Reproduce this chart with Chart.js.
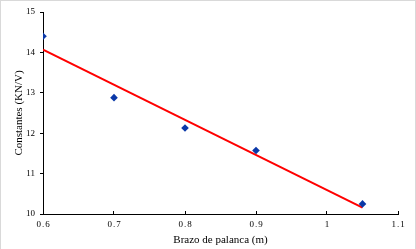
<!DOCTYPE html>
<html>
<head>
<meta charset="utf-8">
<script src="https://cdn.jsdelivr.net/npm/chart.js@4"></script>
<style>
    html, body { margin: 0; padding: 0; background: #ffffff; }
    #wrap { position: relative; width: 416px; height: 249px; }
    #frame {
        position: absolute; left: 0; top: 0; width: 416px; height: 250px;
        box-sizing: border-box; border: 1px solid #d9d9d9; pointer-events: none;
    }
</style>
</head>
<body>
<div id="wrap">
    <canvas id="chart" width="416" height="249"></canvas>
    <div id="frame"></div>
</div>
<script>
// measured points (lever arm vs constant)
const armLength = [0.6, 0.7, 0.8, 0.9, 1.05];
const constants = [14.4, 12.88, 12.13, 11.57, 10.25];

// linear trend line, read at its two ends
const trendX = [0.6, 1.05];
const trendY = [14.07, 10.16];

const xTicks = [0.6, 0.7, 0.8, 0.9, 1, 1.1];
const yTicks = [10, 11, 12, 13, 14, 15];

const SERIF = "'Liberation Serif', 'Times New Roman', serif";
const AXIS_COLOR = "#000000";

const points = armLength.map((x, i) => ({ x, y: constants[i] }));
const trend = trendX.map((x, i) => ({ x, y: trendY[i] }));

// x tick labels are drawn a little letter-spaced, like the original
function spaceOutLabels(scale) {
    if (scale._spaced) {
        return;
    }
    scale._spaced = true;
    const original = scale.drawLabels;
    scale.drawLabels = function (area) {
        const ctx = this.ctx;
        ctx.save();
        ctx.letterSpacing = "1px";
        ctx.translate(0.5, 0);
        original.call(this, area);
        ctx.restore();
    };
}

new Chart(document.getElementById("chart").getContext("2d"), {
    type: "scatter",
    data: {
        datasets: [
            {
                label: "Constantes",
                data: points,
                pointStyle: "rectRot",
                pointRadius: 3.8,
                pointHoverRadius: 3.8,
                backgroundColor: "#0a38a8",
                borderColor: "#0a38a8",
                borderWidth: 0,
                order: 0,
            },
            {
                type: "line",
                label: "Lineal",
                data: trend,
                borderColor: "#ff0000",
                borderWidth: 2,
                pointRadius: 0,
                fill: false,
                tension: 0,
                order: 1,
            },
        ],
    },
    options: {
        responsive: false,
        animation: false,
        layout: { padding: { left: 0, right: 18, top: 12, bottom: 0 } },
        plugins: {
            legend: { display: false },
            tooltip: { enabled: false },
        },
        scales: {
            x: {
                type: "linear",
                min: 0.6,
                max: 1.1,
                border: { display: true, color: AXIS_COLOR, width: 1 },
                grid: {
                    drawOnChartArea: false,
                    tickLength: -3,
                    tickColor: AXIS_COLOR,
                },
                afterBuildTicks: (scale) => {
                    scale.ticks = xTicks.map((value) => ({ value }));
                },
                afterFit: (scale) => {
                    scale.height = 35;
                    spaceOutLabels(scale);
                },
                ticks: {
                    color: AXIS_COLOR,
                    padding: 8,
                    maxRotation: 0,
                    autoSkip: false,
                    font: { family: SERIF, size: 9 },
                    callback: (value) => String(Number(value.toFixed(2))),
                },
                title: {
                    display: true,
                    text: "Brazo de palanca (m)",
                    color: AXIS_COLOR,
                    padding: { top: 0, bottom: 2 },
                    font: { family: SERIF, size: 11 },
                },
            },
            y: {
                type: "linear",
                min: 10,
                max: 15,
                border: { display: true, color: AXIS_COLOR, width: 1 },
                grid: {
                    drawOnChartArea: false,
                    tickLength: 3,
                    tickColor: AXIS_COLOR,
                },
                afterBuildTicks: (scale) => {
                    scale.ticks = yTicks.map((value) => ({ value }));
                },
                afterFit: (scale) => {
                    scale.width = 43;
                },
                ticks: {
                    color: AXIS_COLOR,
                    padding: 5,
                    font: { family: SERIF, size: 9 },
                },
                title: {
                    display: true,
                    text: "Constantes (KN/V)",
                    color: AXIS_COLOR,
                    padding: { top: 13, bottom: 0 },
                    font: { family: SERIF, size: 11 },
                },
            },
        },
    },
});
</script>
</body>
</html>
